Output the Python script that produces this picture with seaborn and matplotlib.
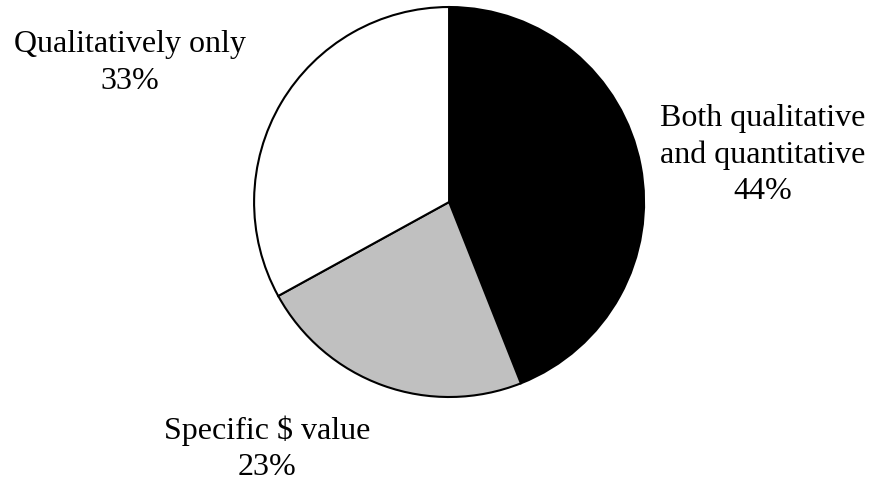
import matplotlib
matplotlib.use("Agg")
import matplotlib.pyplot as plt
import seaborn as sns

categories = ["Both qualitative\nand quantitative", "Specific $ value", "Qualitatively only"]
values = [44, 23, 33]
colors = ["#000000", "#c0c0c0", "#ffffff"]

sns.set_style("white")
plt.rcParams['font.family'] = ['Liberation Serif', 'DejaVu Serif']

fig = plt.figure(figsize=(8.74, 4.83), dpi=100)
ax = fig.add_axes([0, 0, 1, 1])
ax.pie(values, colors=colors, startangle=90, counterclock=False, radius=1,
       wedgeprops=dict(edgecolor="black", linewidth=1.5))
ax.set_xlim(-2.303, 2.179)
ax.set_ylim(-1.441, 1.036)
ax.set_aspect("equal")
ax.axis("off")

label_pos = [(1.61, 0.241), (-0.933, -1.266), (-1.636, 0.713)]
for cat, v, (x, y) in zip(categories, values, label_pos):
    ax.text(x, y, f"{cat}\n{v}%", ha="center", va="center", fontsize=23,
            linespacing=1.34, multialignment="center", color="black")

fig.savefig("out.png", dpi=100)
